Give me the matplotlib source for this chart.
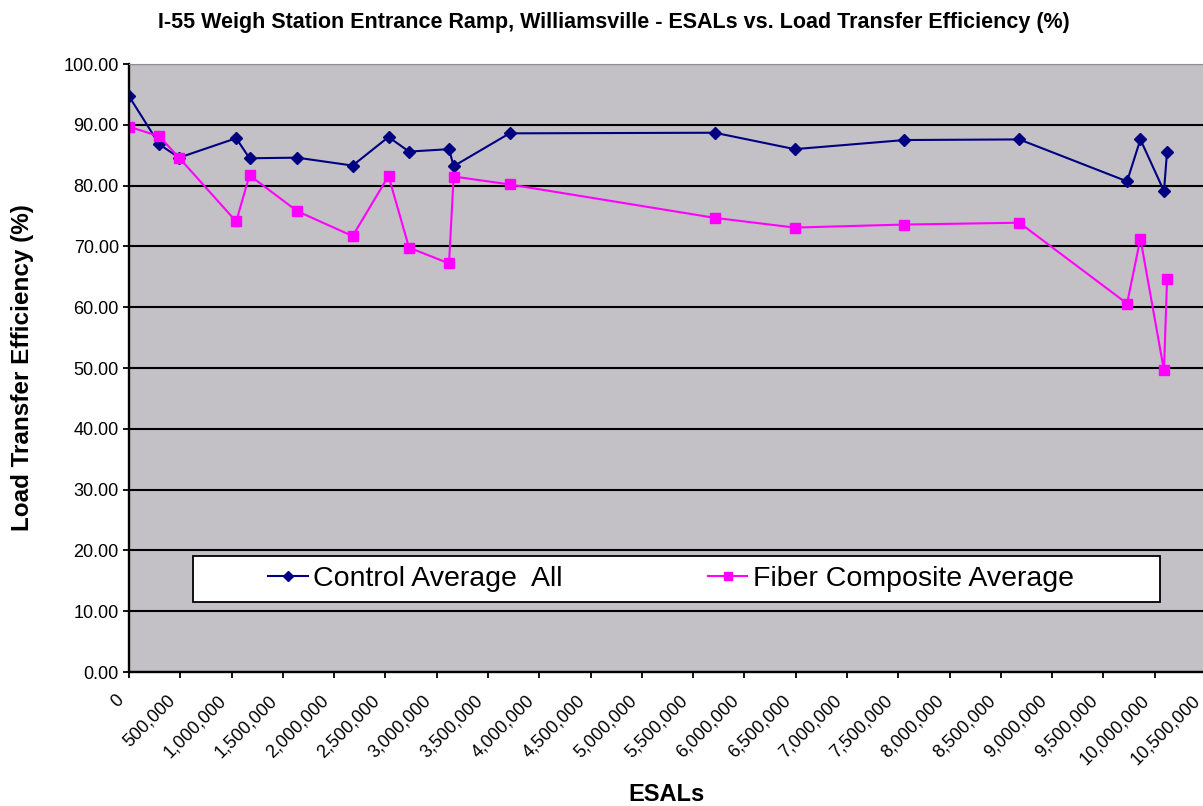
import matplotlib.pyplot as plt
from matplotlib.patches import Rectangle
from matplotlib.ticker import MultipleLocator, FuncFormatter
from matplotlib.transforms import ScaledTranslation

plt.rcParams['font.family'] = ['Liberation Sans', 'DejaVu Sans']

# ESALs for each reading
esals = [0, 295000, 488000, 1045000, 1175000, 1640000, 2180000, 2530000,
         2730000, 3120000, 3165000, 3710000, 5710000, 6490000, 7560000,
         8680000, 9730000, 9860000, 10090000, 10120000]

control_avg = [94.7, 86.8, 84.6, 87.8, 84.5, 84.6, 83.3, 88.0, 85.6, 86.0,
               83.2, 88.6, 88.7, 86.0, 87.5, 87.6, 80.7, 87.6, 79.1, 85.6]

fiber_avg = [89.7, 88.1, 84.6, 74.1, 81.7, 75.8, 71.7, 81.6, 69.8, 67.2,
             81.5, 80.2, 74.7, 73.1, 73.6, 73.9, 60.6, 71.3, 49.6, 64.7]

title = 'I-55 Weigh Station Entrance Ramp, Williamsville - ESALs vs. Load Transfer Efficiency (%)'

fig = plt.figure(figsize=(12.03, 8.06), dpi=100)
# plot area runs a little past the right edge, like the cropped original
ax = fig.add_axes([0.10723, 0.16625, 0.8953, 0.7543])
ax.set_facecolor('#c3c1c5')

ax.plot(esals, control_avg, color='#000080', marker='D', markersize=6.5,
        linewidth=1.5, label='Control Average  All')
ax.plot(esals, fiber_avg, color='#ff00ff', marker='s', markersize=7,
        linewidth=1.5, label='Fiber Composite Average')

ax.set_xlim(0, 10500000)
ax.set_ylim(0, 100)
ax.xaxis.set_major_locator(MultipleLocator(500000))
ax.yaxis.set_major_locator(MultipleLocator(10))
ax.xaxis.set_major_formatter(FuncFormatter(lambda v, p: f'{int(round(v)):,}'))
ax.yaxis.set_major_formatter(FuncFormatter(lambda v, p: f'{v:.2f}'))
ax.tick_params(axis='both', labelsize=13, direction='out', length=4.3,
               width=1.3, colors='black')
ax.tick_params(axis='y', pad=3)
ax.tick_params(axis='x', pad=14.4)
ax.yaxis.grid(True, color='black', linewidth=1.5)
ax.set_axisbelow(True)

shift = ScaledTranslation(-8 / 100, 0, fig.dpi_scale_trans)
for lab in ax.get_xticklabels():
    lab.set_rotation(45)
    lab.set_ha('right')
    lab.set_va('center')
    lab.set_rotation_mode('anchor')
    lab.set_transform(lab.get_transform() + shift)
ax.get_ygridlines()[-1].set_visible(False)

for s in ['top', 'right']:
    ax.spines[s].set_color('#8f8f8f')
for s in ['left', 'bottom']:
    ax.spines[s].set_linewidth(1.7)

fig.text(614 / 1203, 1 - 28 / 806, title, fontsize=15.5, fontweight='bold',
         ha='center', va='baseline')
fig.text(667 / 1203, 1 - 801 / 806, 'ESALs', fontsize=17, fontweight='bold',
         ha='center', va='baseline')
fig.text(23 / 1203, 1 - 368 / 806, 'Load Transfer Efficiency (%)', fontsize=17.5,
         fontweight='bold', rotation=90, ha='center', va='center')

# legend box
ax.add_patch(Rectangle((0.0594, 0.115), 0.898, 0.0757, transform=ax.transAxes,
                       facecolor='white', edgecolor='black', linewidth=1.3, zorder=5))
leg = ax.legend(loc='center left', bbox_to_anchor=(0.129, 0.153), ncol=2,
                fontsize=20.5, frameon=False, handlelength=1.4, handletextpad=0.18,
                columnspacing=5.1, borderpad=0, borderaxespad=0, markerscale=0.8)
leg.set_zorder(6)

fig.savefig('out.png', dpi=100)
